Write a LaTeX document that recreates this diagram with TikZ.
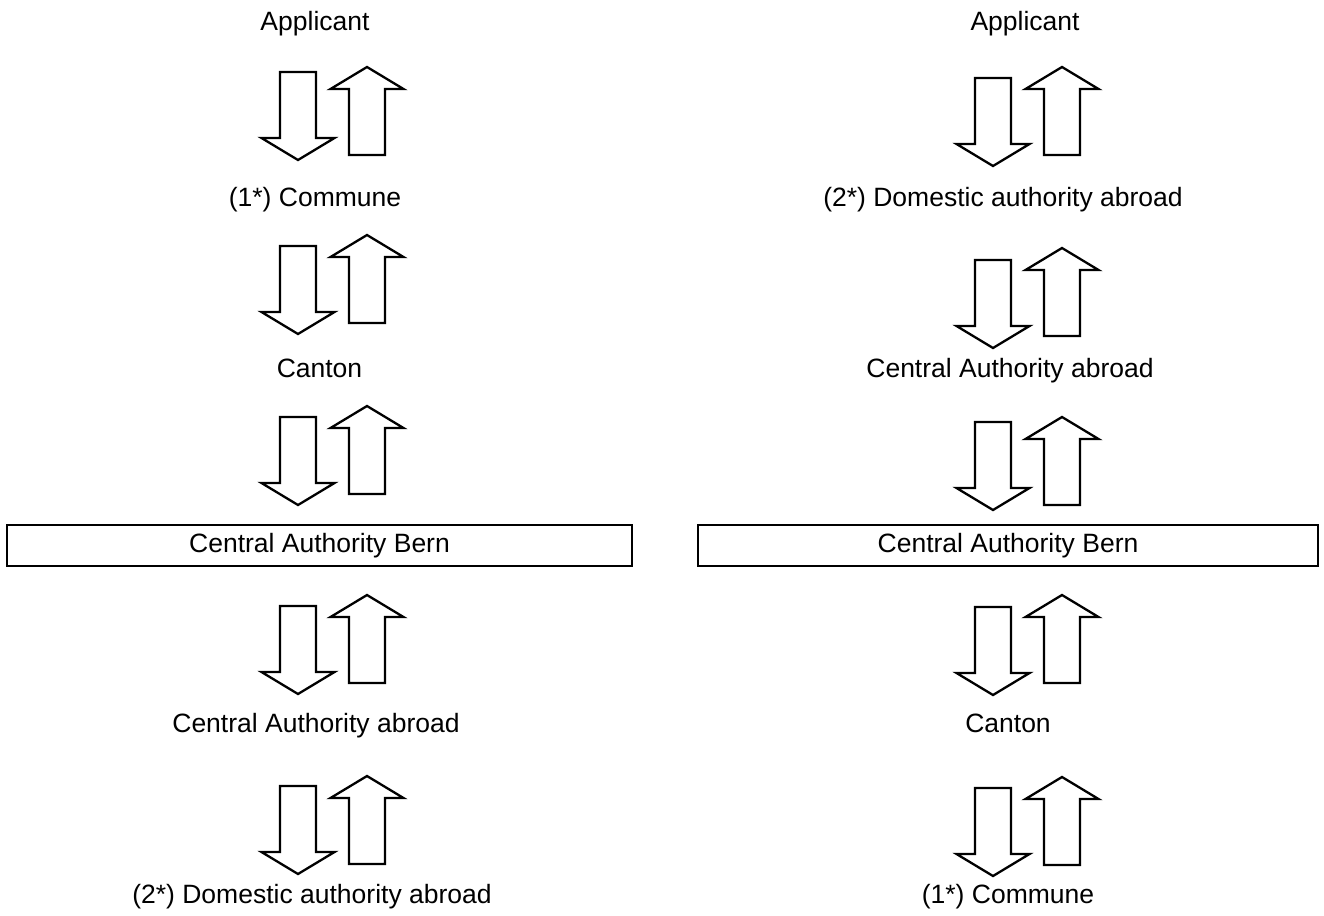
\documentclass[tikz,border=0pt]{standalone}
\usepackage{fontspec}
\setmainfont{Liberation Sans}
\begin{document}
\begin{tikzpicture}[x=1pt,y=-1pt,
  lbl/.style={inner sep=0pt,anchor=base,font=\fontsize{26.5}{30}\selectfont},
  boxnode/.style={draw,line width=2.8pt,minimum height=41pt,inner sep=0pt,font=\fontsize{26.5}{30}\selectfont},
  arrowline/.style={draw,line width=2.3pt,line join=miter,fill=white},
  dnarr/.pic={\path[arrowline] (-18,0) -- (18,0) -- (18,66) -- (36.5,66) -- (0,88) -- (-36.5,66) -- (-18,66) -- cycle;},
  uparr/.pic={\path[arrowline] (-18,0) -- (18,0) -- (18,-66) -- (36.5,-66) -- (0,-88) -- (-36.5,-66) -- (-18,-66) -- cycle;}
]
\useasboundingbox (0,0) rectangle (1324,915);
% left column
\node[lbl] (la) at (315,31) {Applicant};
\node[lbl] (lc1) at (315,206) {(1*) Commune};
\node[lbl] (lc2) at (319.5,377) {Canton};
\node[boxnode,minimum width=625pt] (lb) at (319.5,545.5) {Central Authority Bern};
\node[lbl] (lc3) at (316,732) {Central Authority abroad};
\node[lbl] (lc4) at (312,903) {(2*) Domestic authority abroad};
\pic at (298,72) {dnarr}; \pic at (367,155) {uparr};
\pic at (298,246) {dnarr}; \pic at (367,323) {uparr};
\pic at (298,417) {dnarr}; \pic at (367,494) {uparr};
\pic at (298,606) {dnarr}; \pic at (367,683) {uparr};
\pic at (298,786) {dnarr}; \pic at (367,864) {uparr};
% right column
\node[lbl] (ra) at (1025,31) {Applicant};
\node[lbl] (rc1) at (1003,206) {(2*) Domestic authority abroad};
\node[lbl] (rc2) at (1010,377) {Central Authority abroad};
\node[boxnode,minimum width=620pt] (rb) at (1008,545.5) {Central Authority Bern};
\node[lbl] (rc3) at (1008,732) {Canton};
\node[lbl] (rc4) at (1008,903) {(1*) Commune};
\pic at (993,78) {dnarr}; \pic at (1062,155) {uparr};
\pic at (993,260) {dnarr}; \pic at (1062,336) {uparr};
\pic at (993,422) {dnarr}; \pic at (1062,505) {uparr};
\pic at (993,607) {dnarr}; \pic at (1062,683) {uparr};
\pic at (993,788) {dnarr}; \pic at (1062,865) {uparr};
\end{tikzpicture}
\end{document}
